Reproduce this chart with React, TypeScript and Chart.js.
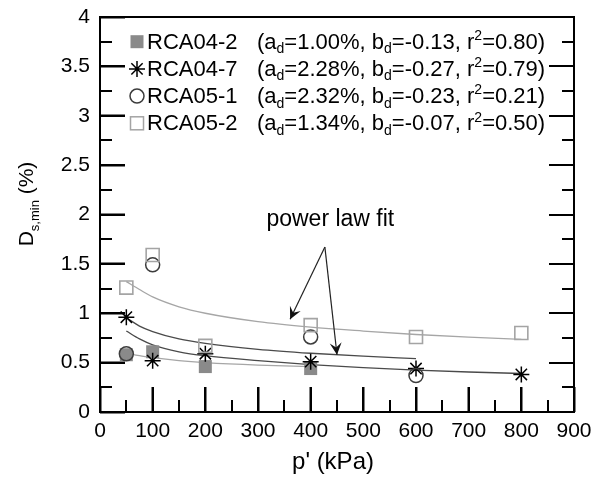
import React, { useEffect, useRef } from "react";
import { Chart, registerables } from "chart.js";

Chart.register(...registerables);

// ---- data ----
const seriesNames = ["RCA04-2", "RCA04-7", "RCA05-1", "RCA05-2"];
const aValues = ["1.00", "2.28", "2.32", "1.34"];
const bValues = ["-0.13", "-0.27", "-0.23", "-0.07"];
const r2Values = ["0.80", "0.79", "0.21", "0.50"];

const pRCA04_2 = [50, 100, 200, 400];
const dRCA04_2 = [0.58, 0.61, 0.46, 0.44];
const pRCA04_7 = [50, 100, 200, 400, 600, 800];
const dRCA04_7 = [0.96, 0.52, 0.59, 0.51, 0.44, 0.38];
const pRCA05_1 = [50, 100, 400, 600];
const dRCA05_1 = [0.59, 1.49, 0.76, 0.37];
const pRCA05_2 = [50, 100, 200, 400, 600, 800];
const dRCA05_2 = [1.26, 1.59, 0.67, 0.88, 0.76, 0.8];

// power-law fit curves (as drawn in the reference)
const fitP_RCA04_2 = [50, 75, 100, 150, 200, 300, 400];
const fitD_RCA04_2 = [0.6, 0.57, 0.55, 0.52, 0.5, 0.475, 0.46];
const fitP_RCA04_7 = [50, 75, 100, 150, 200, 300, 400, 500, 600, 700, 800];
const fitD_RCA04_7 = [0.82, 0.74, 0.68, 0.61, 0.57, 0.52, 0.48, 0.45, 0.425, 0.405, 0.39];
const fitP_RCA05_1 = [50, 75, 100, 150, 200, 300, 400, 500, 600];
const fitD_RCA05_1 = [0.955, 0.87, 0.815, 0.74, 0.695, 0.635, 0.595, 0.565, 0.54];
const fitP_RCA05_2 = [50, 75, 100, 150, 200, 300, 400, 500, 600, 700, 800];
const fitD_RCA05_2 = [1.32, 1.24, 1.165, 1.065, 1.0, 0.915, 0.86, 0.82, 0.785, 0.758, 0.736];

const X_MIN = 0, X_MAX = 900, X_STEP = 100, X_MINOR = 50;
const Y_MIN = 0, Y_MAX = 4, Y_STEP = 0.5, Y_MINOR = 0.25;

const xTitle = "p' (kPa)";
const yTitleMain = "D";
const yTitleSub = "s,min";
const yTitleTail = " (%)";

const annotationText = "power law fit";
const annotationTextPos = { x: 316, y: 1.88 };
const arrowApex = { x: 427, y: 1.67 };
const arrowTips = [
  { x: 361, y: 0.94 },
  { x: 450, y: 0.58 },
];

const FONT = "'Liberation Sans', Arial, Helvetica, sans-serif";

type Style = { kind: string; fill: string; stroke: string };
const markerStyles: Style[] = [
  { kind: "fsquare", fill: "#8a8a8a", stroke: "#8a8a8a" },
  { kind: "star", fill: "transparent", stroke: "#000000" },
  { kind: "circle", fill: "transparent", stroke: "#3c3c3c" },
  { kind: "osquare", fill: "transparent", stroke: "#a4a4a4" },
];

function drawMarker(ctx: CanvasRenderingContext2D, kind: string, x: number, y: number, s: Style) {
  ctx.save();
  ctx.lineWidth = 1.5;
  ctx.strokeStyle = s.stroke;
  ctx.fillStyle = s.fill;
  if (kind === "fsquare") {
    ctx.fillRect(x - 6.5, y - 6.5, 13, 13);
  } else if (kind === "osquare") {
    ctx.strokeRect(x - 6.5, y - 6.5, 13, 13);
  } else if (kind === "circle") {
    ctx.beginPath();
    ctx.arc(x, y, 7, 0, Math.PI * 2);
    ctx.stroke();
  } else if (kind === "star") {
    const r = 8;
    const o = r * Math.SQRT1_2;
    ctx.beginPath();
    ctx.moveTo(x, y - r); ctx.lineTo(x, y + r);
    ctx.moveTo(x - r, y); ctx.lineTo(x + r, y);
    ctx.moveTo(x - o, y - o); ctx.lineTo(x + o, y + o);
    ctx.moveTo(x - o, y + o); ctx.lineTo(x + o, y - o);
    ctx.stroke();
  }
  ctx.restore();
}

type Seg = { t: string; mode?: "sub" | "sup" };
function drawRich(ctx: CanvasRenderingContext2D, parts: Seg[], x: number, y: number, size: number, subSize: number) {
  let cx = x;
  for (const s of parts) {
    if (s.mode === "sub") {
      ctx.font = `${subSize}px ${FONT}`;
      ctx.fillText(s.t, cx, y + size * 0.3);
    } else if (s.mode === "sup") {
      ctx.font = `${subSize}px ${FONT}`;
      ctx.fillText(s.t, cx, y - size * 0.3);
    } else {
      ctx.font = `${size}px ${FONT}`;
      ctx.fillText(s.t, cx, y);
    }
    cx += ctx.measureText(s.t).width;
  }
  return cx - x;
}
function richWidth(ctx: CanvasRenderingContext2D, parts: Seg[], size: number, subSize: number) {
  let w = 0;
  for (const s of parts) {
    ctx.font = `${s.mode ? subSize : size}px ${FONT}`;
    w += ctx.measureText(s.t).width;
  }
  return w;
}

function line(ctx: CanvasRenderingContext2D, x1: number, y1: number, x2: number, y2: number) {
  ctx.beginPath();
  ctx.moveTo(x1, y1);
  ctx.lineTo(x2, y2);
  ctx.stroke();
}

function drawFrameAndTicks(chart: any) {
  const ctx: CanvasRenderingContext2D = chart.ctx;
  const area = chart.chartArea;
  const L = area.left, R = area.right, T = area.top, B = area.bottom;
  ctx.save();
  ctx.fillStyle = "#000000";
  ctx.fillRect(L - 1, T - 1, R - L + 2, 2);
  ctx.fillRect(L - 1, B - 1, R - L + 2, 2);
  ctx.fillRect(L - 1, T - 1, 2, B - T + 2);
  ctx.fillRect(R - 1, T - 1, 2, B - T + 2);
  const ny = 16;
  for (let k = 0; k <= ny; k++) {
    const yy = Math.round(B - (k / ny) * (B - T));
    const tl = k % 2 === 0 ? 25 : 12;
    ctx.fillRect(L, yy - 1, tl, 2);
    ctx.fillRect(R - tl, yy - 1, tl, 2);
  }
  const nx = 18;
  for (let k = 0; k <= nx; k++) {
    const xx = Math.round(L + (k / nx) * (R - L));
    const tl = k % 2 === 0 ? 25 : 12;
    ctx.fillRect(xx - 1, B - tl, 2, tl);
  }
  ctx.restore();
}

const decorPlugin = {
  id: "decor",
  afterDraw(chart: any) {
    const ctx: CanvasRenderingContext2D = chart.ctx;
    const area = chart.chartArea;
    const left = area.left, right = area.right;
    const xs = chart.scales.x;
    const ys = chart.scales.y;
    drawFrameAndTicks(chart);
    ctx.save();

    // axis titles
    ctx.fillStyle = "#000";
    ctx.textBaseline = "middle";
    ctx.textAlign = "center";
    ctx.font = `24px ${FONT}`;
    ctx.fillText(xTitle, (left + right) / 2 - 4, 462);

    ctx.textAlign = "left";
    ctx.textBaseline = "alphabetic";
    const yParts: Seg[] = [{ t: yTitleMain }, { t: yTitleSub, mode: "sub" }, { t: yTitleTail }];
    const yw = richWidth(ctx, yParts, 21, 13);
    ctx.save();
    ctx.translate(33, 204);
    ctx.rotate(-Math.PI / 2);
    drawRich(ctx, yParts, -yw / 2, 0, 21, 13);
    ctx.restore();

    // legend
    for (let i = 0; i < seriesNames.length; i++) {
      const ly = 41.7 + i * 27.2;
      drawMarker(ctx, markerStyles[i].kind, 137, ly, markerStyles[i]);
      ctx.fillStyle = "#000";
      ctx.textBaseline = "middle";
      ctx.font = `22px ${FONT}`;
      ctx.fillText(seriesNames[i], 147, ly + 1);
      const parts: Seg[] = [
        { t: "(a" }, { t: "d", mode: "sub" }, { t: `=${aValues[i]}%, b` }, { t: "d", mode: "sub" },
        { t: `=${bValues[i]}, r` }, { t: "2", mode: "sup" }, { t: `=${r2Values[i]})` },
      ];
      drawRich(ctx, parts, 257, ly + 1, 22, 14);
    }

    // annotation
    ctx.fillStyle = "#000";
    ctx.textBaseline = "alphabetic";
    ctx.font = `23px ${FONT}`;
    ctx.fillText(annotationText, xs.getPixelForValue(annotationTextPos.x), ys.getPixelForValue(annotationTextPos.y));
    const ax = xs.getPixelForValue(arrowApex.x);
    const ay = ys.getPixelForValue(arrowApex.y);
    ctx.strokeStyle = "#222";
    ctx.fillStyle = "#111";
    ctx.lineWidth = 1.2;
    for (const tip of arrowTips) {
      const tx = xs.getPixelForValue(tip.x);
      const ty = ys.getPixelForValue(tip.y);
      line(ctx, ax, ay, tx, ty);
      const ang = Math.atan2(ty - ay, tx - ax);
      const AL = 12, AW = 6;
      ctx.save();
      ctx.translate(tx, ty);
      ctx.rotate(ang);
      ctx.beginPath();
      ctx.moveTo(0, 0);
      ctx.lineTo(-AL, -AW);
      ctx.lineTo(-AL * 0.6, 0);
      ctx.lineTo(-AL, AW);
      ctx.closePath();
      ctx.fill();
      ctx.restore();
    }
    ctx.restore();
  },
};

function pts(px: number[], py: number[]) {
  return px.map((x, i) => ({ x, y: py[i] }));
}

export default function App() {
  const ref = useRef<HTMLCanvasElement>(null);
  useEffect(() => {
    if (!ref.current) return;
    const fitLine = (data: any, color: string) => ({
      data,
      showLine: true,
      borderColor: color,
      borderWidth: 1.3,
      pointRadius: 0,
      cubicInterpolationMode: "monotone" as const,
      order: 10,
    });
    const chart = new Chart(ref.current, {
      type: "scatter",
      data: {
        datasets: [
          fitLine(pts(fitP_RCA04_2, fitD_RCA04_2), "#a6a6a6"),
          fitLine(pts(fitP_RCA04_7, fitD_RCA04_7), "#4a4a4a"),
          fitLine(pts(fitP_RCA05_1, fitD_RCA05_1), "#4a4a4a"),
          fitLine(pts(fitP_RCA05_2, fitD_RCA05_2), "#a6a6a6"),
          {
            data: pts(pRCA04_2, dRCA04_2),
            pointStyle: "rect",
            pointRadius: 9.2,
            pointBackgroundColor: "#8a8a8a",
            pointBorderColor: "#8a8a8a",
            pointBorderWidth: 0,
            order: 4,
          },
          {
            data: pts(pRCA04_7, dRCA04_7),
            pointStyle: "star",
            pointRadius: 8,
            pointBorderColor: "#000",
            pointBorderWidth: 1.5,
            order: 3,
          },
          {
            data: pts(pRCA05_1, dRCA05_1),
            pointStyle: "circle",
            pointRadius: 7,
            pointBackgroundColor: "rgba(0,0,0,0)",
            pointBorderColor: "#3c3c3c",
            pointBorderWidth: 1.5,
            order: 2,
          },
          {
            data: pts(pRCA05_2, dRCA05_2),
            pointStyle: "rect",
            pointRadius: 9.2,
            pointBackgroundColor: "rgba(0,0,0,0)",
            pointBorderColor: "#a4a4a4",
            pointBorderWidth: 1.6,
            order: 1,
          },
        ],
      },
      options: {
        responsive: false,
        animation: false,
        devicePixelRatio: 1,
        layout: { padding: { top: 17, right: 32, left: 0, bottom: 0 } },
        plugins: { legend: { display: false }, tooltip: { enabled: false } },
        scales: {
          x: {
            type: "linear",
            min: X_MIN,
            max: X_MAX,
            grid: {
              display: true,
              drawOnChartArea: false,
              drawTicks: true,
              tickLength: -25,
              tickWidth: 2,
              tickColor: "#000",
            },
            border: { display: false },
            ticks: {
              stepSize: X_STEP,
              color: "#000",
              font: { size: 21, family: FONT },
              padding: 32,
              maxRotation: 0,
              callback: (v: any) => String(v),
            },
            afterFit(scale: any) {
              scale.height = 67;
              scale.paddingLeft = 0;
              scale.paddingRight = 0;
            },
          },
          y: {
            type: "linear",
            min: Y_MIN,
            max: Y_MAX,
            grid: {
              display: true,
              drawOnChartArea: false,
              drawTicks: true,
              tickLength: -25,
              tickWidth: 2,
              tickColor: "#000",
            },
            border: { display: false },
            ticks: {
              stepSize: Y_STEP,
              color: "#000",
              font: { size: 21, family: FONT },
              padding: 35,
              callback: (v: any) => String(v),
            },
            afterFit(scale: any) {
              scale.width = 100;
              scale.paddingTop = 0;
              scale.paddingBottom = 0;
            },
          },
        },
      } as any,
      plugins: [decorPlugin],
    });
    return () => chart.destroy();
  }, []);
  return (
    <div style={{ position: "absolute", left: 0, top: 0, width: 606, height: 479, background: "#fff" }}>
      <canvas ref={ref} width={606} height={479} style={{ display: "block" }} />
    </div>
  );
}
